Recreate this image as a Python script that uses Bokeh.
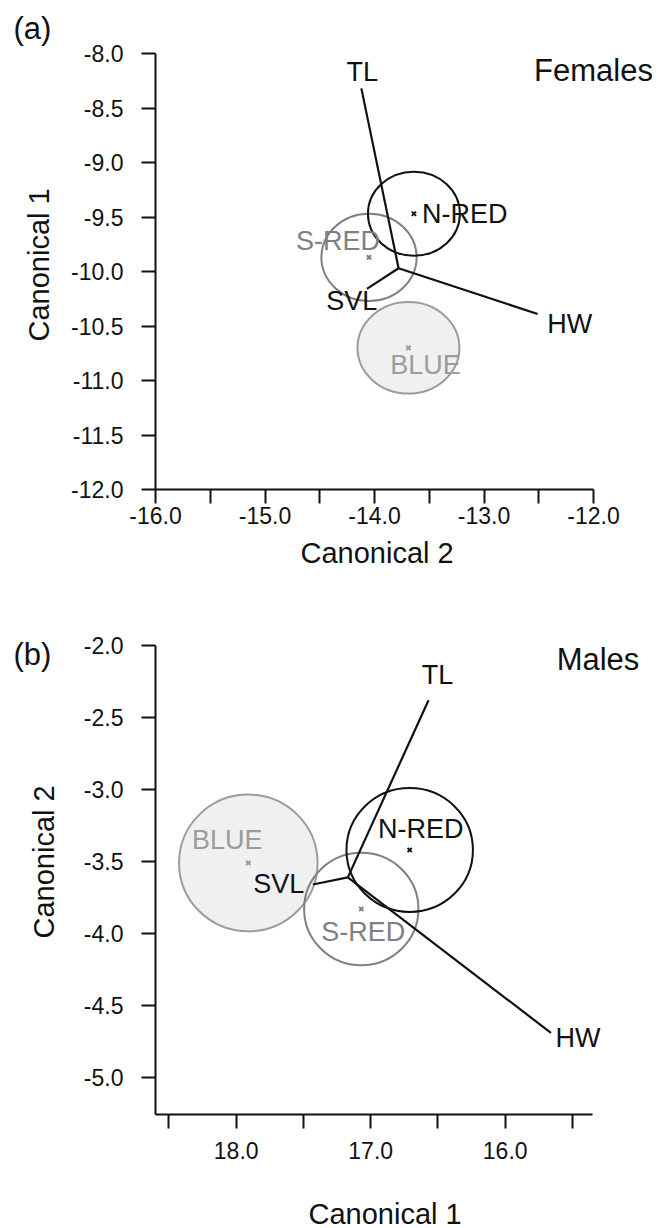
from bokeh.plotting import figure
from bokeh.models import Range1d, FixedTicker, PrintfTickFormatter, Label, Title
from bokeh.layouts import column
from bokeh.embed import file_html
from bokeh.resources import INLINE
from bokeh.core.properties import value

FONT = "Liberation Sans"

# ---------------- data ----------------
groups = ["N-RED", "S-RED", "BLUE"]
vectors = ["TL", "SVL", "HW"]

# Females (panel a): x = Canonical 2, y = Canonical 1
f_mean_x = [-13.64, -14.05, -13.69]
f_mean_y = [-9.47, -9.87, -10.70]
f_ell_w = [0.84, 0.87, 0.93]
f_ell_h = [0.77, 0.80, 0.84]
f_origin_x = -13.78
f_origin_y = -9.97
f_vec_x = [-14.12, -14.07, -12.51]
f_vec_y = [-8.32, -10.16, -10.39]

# Males (panel b): x = Canonical 1, y = Canonical 2
m_mean_x = [16.71, 17.07, 17.91]
m_mean_y = [-3.42, -3.83, -3.51]
m_ell_w = [0.94, 0.85, 1.03]
m_ell_h = [0.86, 0.78, 0.95]
m_origin_x = 17.17
m_origin_y = -3.61
m_vec_x = [16.57, 17.43, 15.66]
m_vec_y = [-2.38, -3.66, -4.69]

# ticks
f_xticks = [-16.0, -15.0, -14.0, -13.0, -12.0]
f_xminor = [-15.5, -14.5, -13.5, -12.5]
f_yticks = [-8.0, -8.5, -9.0, -9.5, -10.0, -10.5, -11.0, -11.5, -12.0]
m_xticks = [18.0, 17.0, 16.0]
m_xminor = [18.5, 17.5, 16.5, 15.5]
m_yticks = [-2.0, -2.5, -3.0, -3.5, -4.0, -4.5, -5.0]

# ---------------- styles ----------------
line_col = {"N-RED": "#111111", "S-RED": "#808080", "BLUE": "#9c9c9c"}
fill_col = {"N-RED": None, "S-RED": None, "BLUE": "#f0f0f0"}
text_col = {"N-RED": "#111111", "S-RED": "#808080", "BLUE": "#9c9c9c"}


def style_axes(p, xt, xminor, yt, xbounds, ybounds, x_lab_standoff):
    for ax in p.axis:
        ax.axis_line_width = 2
        ax.axis_line_color = "#111111"
        ax.major_tick_line_width = 2
        ax.major_tick_line_color = "#111111"
        ax.major_tick_out = 14
        ax.major_tick_in = 0
        ax.minor_tick_line_width = 2
        ax.minor_tick_line_color = "#111111"
        ax.minor_tick_out = 14
        ax.minor_tick_in = 0
        ax.major_label_text_font = FONT
        ax.major_label_text_font_size = "23px"
        ax.major_label_text_color = "#111111"
        ax.formatter = PrintfTickFormatter(format="%.1f")
    p.xaxis.ticker = FixedTicker(ticks=xt, minor_ticks=xminor)
    p.yaxis.ticker = FixedTicker(ticks=yt, minor_ticks=[])
    p.xaxis.bounds = xbounds
    p.yaxis.bounds = ybounds
    p.xaxis.major_label_standoff = x_lab_standoff
    p.yaxis.major_label_standoff = 18
    p.xgrid.visible = False
    p.ygrid.visible = False
    p.outline_line_color = None
    p.background_fill_color = "white"
    p.border_fill_color = "white"


def add_titles(p, tag, tag_offset, tag_standoff, xtitle, x_off, x_standoff,
               ytitle, y_off, y_standoff):
    p.title.text = tag
    p.title.align = "left"
    p.title.offset = tag_offset
    p.title.standoff = tag_standoff
    p.title.text_font = FONT
    p.title.text_font_size = "31px"
    p.title.text_font_style = "normal"
    p.title.text_color = "#111111"
    p.add_layout(Title(text=xtitle, align="left", offset=x_off, standoff=x_standoff,
                       text_font=FONT, text_font_size="29px", text_font_style="normal",
                       text_color="#111111"), "below")
    p.add_layout(Title(text=ytitle, align="left", offset=y_off, standoff=y_standoff,
                       text_font=FONT, text_font_size="29px", text_font_style="normal",
                       text_color="#111111"), "left")


def draw_panel(p, mx, my, ew, eh, ox, oy, vx, vy, grp_off, vec_off):
    for i in [2, 1, 0]:
        g = groups[i]
        p.ellipse(x=[mx[i]], y=[my[i]], width=[ew[i]], height=[eh[i]],
                  fill_color=fill_col[g], fill_alpha=1.0 if fill_col[g] else 0,
                  line_color=line_col[g], line_width=2)
    for i in range(3):
        p.line(x=[ox, vx[i]], y=[oy, vy[i]], line_color="#111111", line_width=2.2)
    for i in range(3):
        g = groups[i]
        p.scatter(x=[mx[i]], y=[my[i]], marker="x", size=6, line_width=2,
                  line_color=line_col[g])
    for i in range(3):
        g = groups[i]
        dx, dy, al = grp_off[i]
        p.text(x=[mx[i]], y=[my[i]], text=[g], x_offset=dx, y_offset=dy,
               text_align=al, text_baseline="middle",
               text_font=value(FONT), text_font_size=value("27px"),
               text_color=text_col[g])
    for i in range(3):
        dx, dy = vec_off[i]
        p.text(x=[vx[i]], y=[vy[i]], text=[vectors[i]], x_offset=dx, y_offset=dy,
               text_align="center", text_baseline="middle",
               text_font=value(FONT), text_font_size=value("27px"),
               text_color="#111111")


# ---------------- panel (a) ----------------
pa = figure(width=663, height=604, output_backend="svg", toolbar_location=None,
            x_range=Range1d(-16.0, -16.0 + 506 / 109.5), y_range=Range1d(-12.0, -8.0),
            min_border_left=155, min_border_right=2, min_border_top=53,
            min_border_bottom=115, frame_width=506, frame_height=436)
style_axes(pa, f_xticks, f_xminor, f_yticks, (-16.0, -12.0), (-12.0, -8.0), 3)
add_titles(pa, "(a)", -142, 15, "Canonical 2", 145, 17, "Canonical 1", 148, 28)
draw_panel(pa, f_mean_x, f_mean_y, f_ell_w, f_ell_h, f_origin_x, f_origin_y,
           f_vec_x, f_vec_y,
           grp_off=[(8, 0, "left"), (-31, -16, "center"), (17, 17, "center")],
           vec_off=[(1, -16), (-15, 12), (32, 10)])
pa.add_layout(Label(x=-12.0, y=-8.16, text="Females", text_align="center",
                    text_baseline="middle", text_font=FONT, text_font_size="31px",
                    text_color="#111111"))

# ---------------- panel (b) ----------------
pb = figure(width=663, height=624, output_backend="svg", toolbar_location=None,
            x_range=Range1d(18.6, 18.6 - 506 / 134.5), y_range=Range1d(-5.257, -2.0),
            min_border_left=155, min_border_right=2, min_border_top=41,
            min_border_bottom=114, frame_width=506, frame_height=469)
style_axes(pb, m_xticks, m_xminor, m_yticks, (15.35, 18.6), (-5.257, -2.0), 13)
add_titles(pb, "(b)", -142, -52, "Canonical 1", 153, 69, "Canonical 2", 176, 42)
draw_panel(pb, m_mean_x, m_mean_y, m_ell_w, m_ell_h, m_origin_x, m_origin_y,
           m_vec_x, m_vec_y,
           grp_off=[(11, -21, "center"), (2, 23, "center"), (-21, -23, "center")],
           vec_off=[(9, -25), (-34, -1), (27, 5)])
pb.add_layout(Label(x=15.31, y=-2.10, text="Males", text_align="center",
                    text_baseline="middle", text_font=FONT, text_font_size="31px",
                    text_color="#111111"))

layout = column(pa, pb)
open("out.html", "w").write(file_html(layout, INLINE))
